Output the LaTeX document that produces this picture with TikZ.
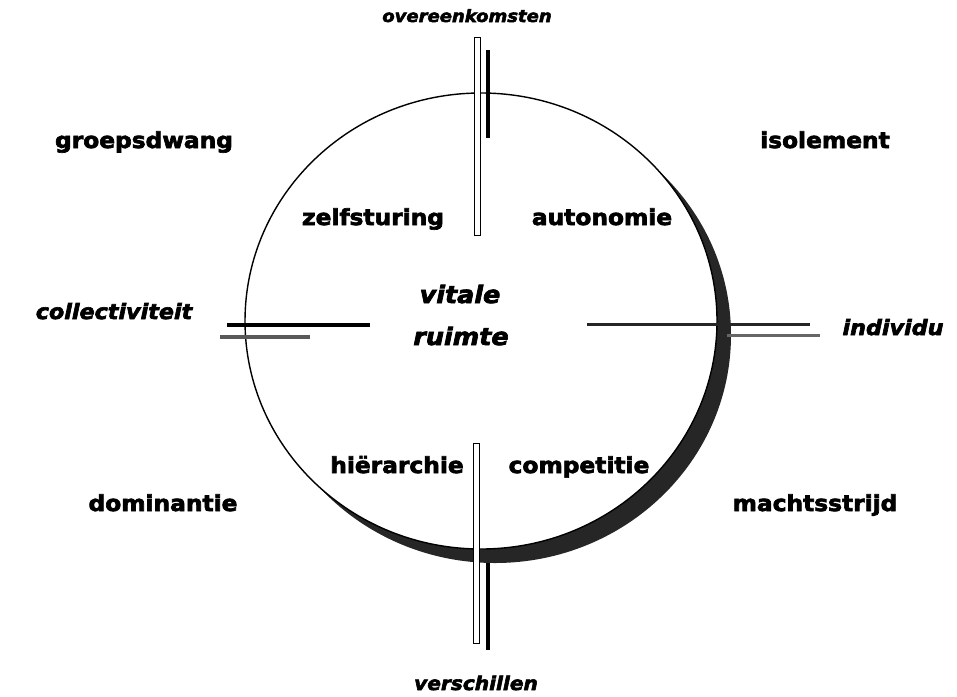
\documentclass[tikz,border=0pt]{standalone}
\usepackage{fontspec}
\setmainfont{DejaVu Sans}[FakeStretch=1.06, BoldFeatures={FakeBold=3}, BoldItalicFeatures={FakeBold=3}]
\begin{document}
\begin{tikzpicture}[x=1pt,y=-1pt,
  lbl/.style={font=\bfseries\fontsize{22}{26}\selectfont, anchor=base, inner sep=0pt},
  ilbl/.style={font=\bfseries\itshape\fontsize{21}{25}\selectfont, anchor=base, inner sep=0pt},
  bar/.style={draw=black, fill=white, line width=1pt},
  thickbar/.style={line width=4pt, black},
  axisA/.style={line width=4pt, black},
  axisB/.style={line width=4pt, black!65},
  shade/.style={fill=black!85}]
\useasboundingbox (0,0) rectangle (957,696);
% crescent shadow
\fill[shade] (495,335) ellipse [x radius=236, y radius=228];
\fill[white] (481,321) ellipse [x radius=236, y radius=228];
\draw[line width=1.4pt] (481,321) ellipse [x radius=236, y radius=228];
% horizontal axis
\coordinate (l1a) at (227,325); \coordinate (l1b) at (370,325);
\coordinate (l2a) at (220,337); \coordinate (l2b) at (310,337);
\coordinate (r1a) at (587,324); \coordinate (r1b) at (810,324);
\coordinate (r2a) at (727,335); \coordinate (r2b) at (820,335);
\draw[axisA] (l1a) -- (l1b);
\draw[axisB] (l2a) -- (l2b);
\draw[line width=3pt, black!85] (r1a) -- (r1b);
\draw[line width=3pt, black!60] (r2a) -- (r2b);
% vertical axis
\draw[bar] (474,37) rectangle (480,235);
\coordinate (t1) at (488,50); \coordinate (t2) at (488,138);
\draw[thickbar] (t1) -- (t2);
\draw[bar] (473,443) rectangle (479,643);
\coordinate (b1) at (488,563); \coordinate (b2) at (488,650);
\draw[thickbar] (b1) -- (b2);
% labels
\node[ilbl, font=\bfseries\itshape\fontsize{17}{20}\selectfont] (over) at (467,22) {overeenkomsten};
\node[lbl] (groep) at (144,148) {groepsdwang};
\node[lbl] (isol) at (825,148) {isolement};
\node[lbl] (zelf) at (373,225) {zelfsturing};
\node[lbl] (auto) at (602,225) {autonomie};
\node[ilbl, font=\bfseries\itshape\fontsize{24}{28}\selectfont] (vit) at (460,303) {vitale};
\node[ilbl, font=\bfseries\itshape\fontsize{24}{28}\selectfont] (ruim) at (461,345) {ruimte};
\node[ilbl] (coll) at (114,319) {collectiviteit};
\node[ilbl] (indiv) at (893,335) {individu};
\node[lbl] (hier) at (397,473) {hiërarchie};
\node[lbl] (comp) at (579,473) {competitie};
\node[lbl] (dom) at (163,511) {dominantie};
\node[lbl] (macht) at (815,511) {machtsstrijd};
\node[ilbl, font=\bfseries\itshape\fontsize{19}{22}\selectfont] (versch) at (476,690) {verschillen};
\end{tikzpicture}
\end{document}
